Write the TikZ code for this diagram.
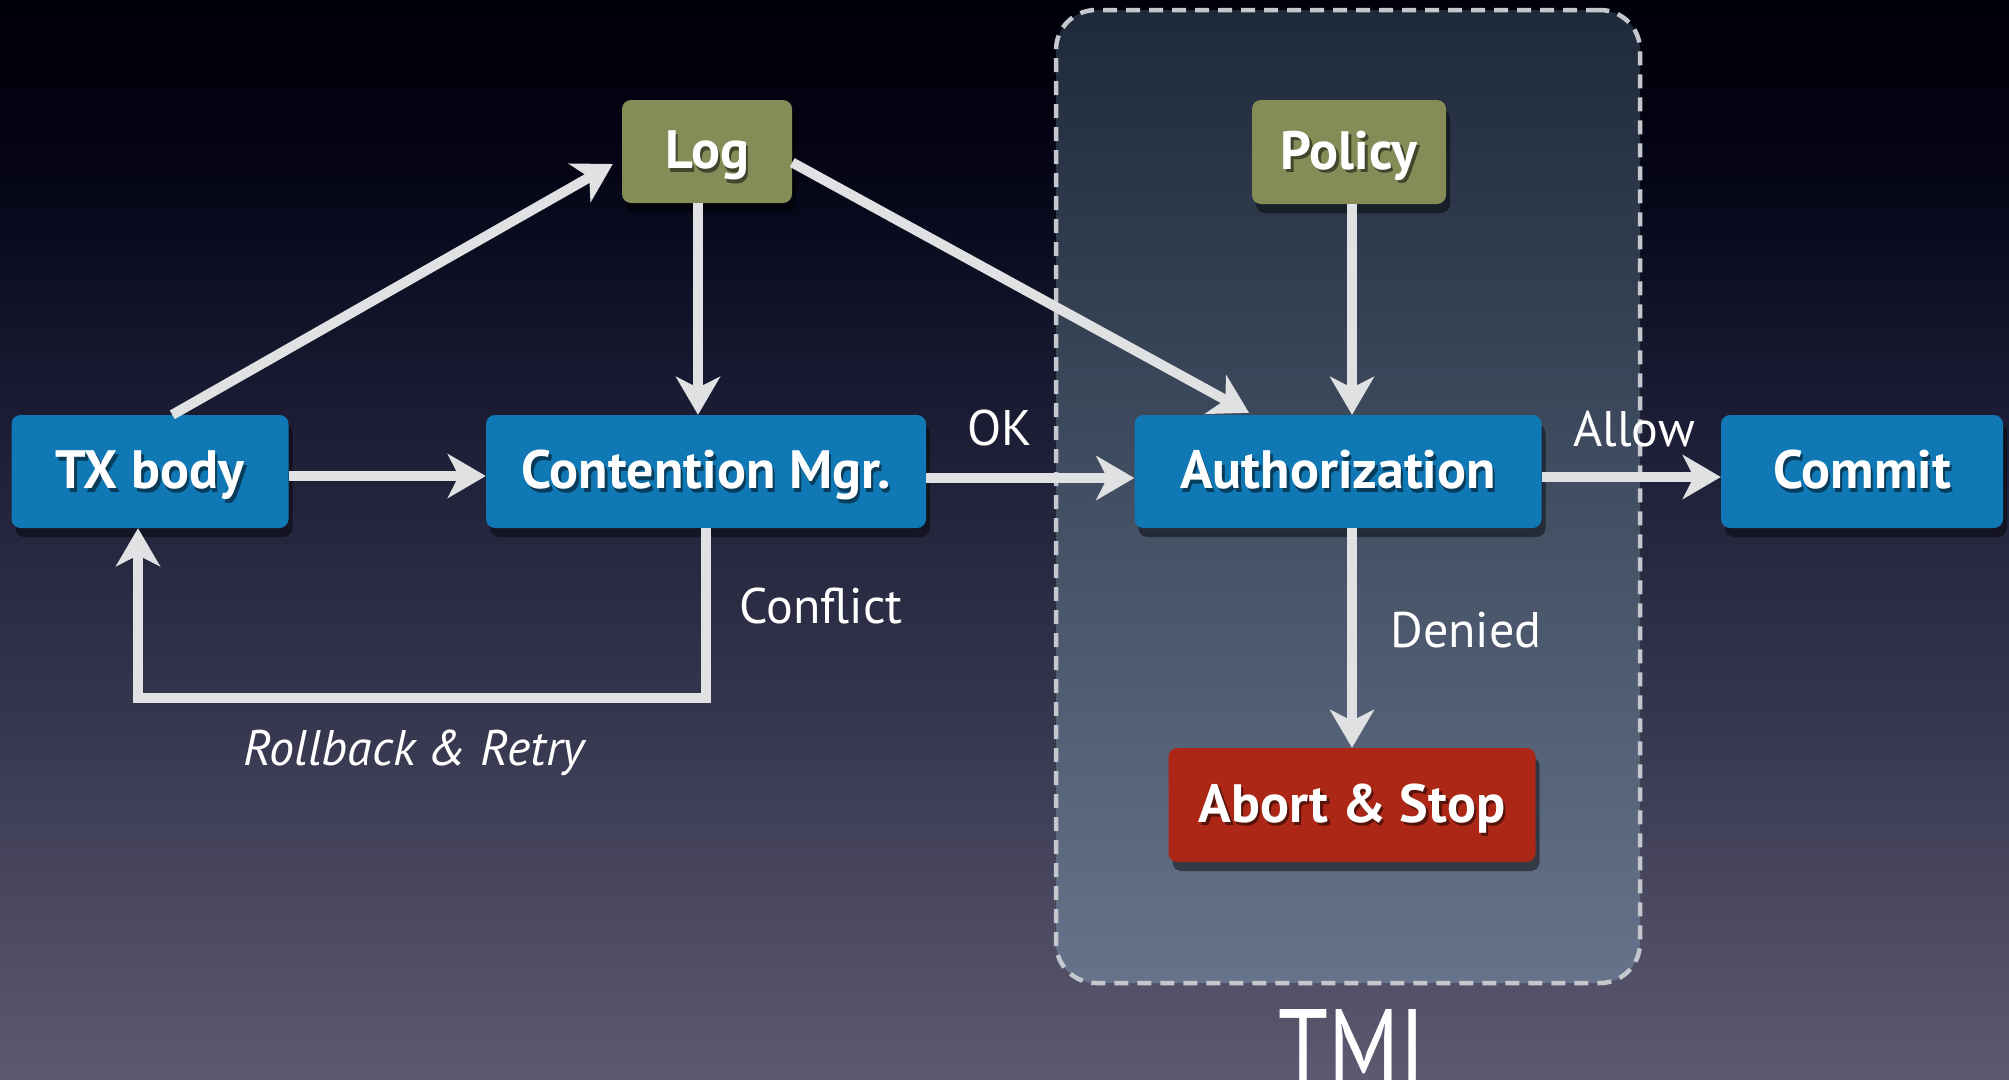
\documentclass[tikz,border=0pt]{standalone}
\usepackage{fontspec}
\setmainfont{PT Sans}
\usetikzlibrary{arrows.meta,shadows,calc}
\definecolor{boxblue}{HTML}{1079B5}
\definecolor{boxolive}{HTML}{868C57}
\definecolor{boxred}{HTML}{AD2717}
\definecolor{arrc}{HTML}{E0E1E3}
\definecolor{dashc}{HTML}{C4C7CC}
\definecolor{bgA}{HTML}{5C5A70}
\definecolor{bgB}{HTML}{34344D}
\definecolor{bgC}{HTML}{1A1B33}
\definecolor{bgD}{HTML}{040416}
\definecolor{bgE}{HTML}{000008}
\definecolor{tmitop}{HTML}{1E2A3A}
\definecolor{tmibot}{HTML}{66738A}
\colorlet{shc}{black}
\pgfdeclareverticalshading{bgshade}{100bp}{color(0bp)=(bgA); color(25bp)=(bgA); color(42.5bp)=(bgB); color(56.5bp)=(bgC); color(67.5bp)=(bgD); color(75bp)=(bgE); color(100bp)=(bgE)}
\newcommand\tsh[1]{\leavevmode\rlap{\kern2.5pt\raisebox{-3.5pt}{\textcolor{shc}{#1}}}#1}
\tikzset{
  box/.style={rounded corners=9pt, minimum height=113pt, inner sep=0pt, text=white,
    text height=38pt, text depth=4pt,
    font=\fontsize{54}{62}\selectfont\bfseries,
    drop shadow={shadow xshift=4pt, shadow yshift=-9pt, opacity=0.45, fill=black}},
  bluebox/.style={box, fill=boxblue, execute at begin node={\colorlet{shc}{boxblue!50!black}}},
  olivebox/.style={box, fill=boxolive, execute at begin node={\colorlet{shc}{boxolive!50!black}}},
  redbox/.style={box, fill=boxred, execute at begin node={\colorlet{shc}{boxred!50!black}}},
  arr/.style={draw=arrc, line width=10pt, -{Stealth[length=38pt, width=44pt, inset=11pt]}},
  lbl/.style={text=white, inner sep=0pt, anchor=base, font=\fontsize{50}{58}\selectfont},
  tmibox/.style={draw=dashc, line width=4.5pt, dash pattern=on 14pt off 9pt,
    rounded corners=40pt, top color=tmitop, bottom color=tmibot, inner sep=0pt}
}
\begin{document}
\begin{tikzpicture}[x=1pt, y=-1pt]
\useasboundingbox (0,0) rectangle (2009,1079);
\shade[shading=bgshade] (0,0) rectangle (2009,1079);
\node[tmibox, minimum width=584pt, minimum height=973pt] (tmi) at (1348,496.5) {};
\node[text=white, inner sep=0pt, anchor=base, font=\fontsize{120}{120}\selectfont] (tmilabel) at ($(tmi.south)+(4,108)$) {\scalebox{0.75}[1]{TMI}};

\node[bluebox, minimum width=277pt] (tx) at (150,471.5) {\tsh{TX body}};
\node[bluebox, minimum width=440pt] (cm) at (706,471.5) {\tsh{Contention Mgr.}};
\node[olivebox, minimum width=170pt, minimum height=103pt] (log) at (707,151.5) {\tsh{Log}};
\node[olivebox, minimum width=194pt, minimum height=104pt] (policy) at (1349,152) {\tsh{Policy}};
\node[bluebox, minimum width=407pt] (auth) at (1338,471.5) {\tsh{Authorization}};
\node[bluebox, minimum width=282pt] (commit) at (1862,471.5) {\tsh{Commit}};
\node[redbox, minimum width=367pt, minimum height=114pt] (abort) at (1352,805) {\tsh{Abort \& Stop}};

\draw[arr] ($(tx.north west)+(161,0)$) -- ($(log.west)+(-9,12.5)$);
\draw[arr] ($(log.south)+(-9,0)$) -- ($(cm.north)+(-8,0)$);
\draw[arr] ($(log.east)+(0,11)$) -- ($(auth.north)+(-89,-2)$);
\draw[arr] ($(policy.south)+(3,0)$) -- ($(auth.north)+(14,0)$);
\draw[arr] ($(tx.east)+(0,4.5)$) -- ($(cm.west)+(0,4.5)$);
\draw[arr] ($(cm.east)+(0,6.5)$) -- ($(auth.west)+(0,6.5)$);
\draw[arr] ($(auth.east)+(0,5.5)$) -- ($(commit.west)+(0,5.5)$);
\draw[arr] ($(auth.south)+(14,0)$) -- (abort.north);
\draw[arr] (cm.south) |- ($(tx.south)+(-12,170)$) -- ($(tx.south)+(-12,0)$);

\node[lbl] (ok) at (1000,445) {OK};
\node[lbl] (allow) at (1634,446) {Allow};
\node[lbl] (conflict) at (821,623) {Conflict};
\node[lbl] (denied) at (1466,647) {Denied};
\node[lbl, font=\fontsize{50}{58}\selectfont\itshape] (rb) at (414,765) {Rollback \& Retry};
\end{tikzpicture}
\end{document}
